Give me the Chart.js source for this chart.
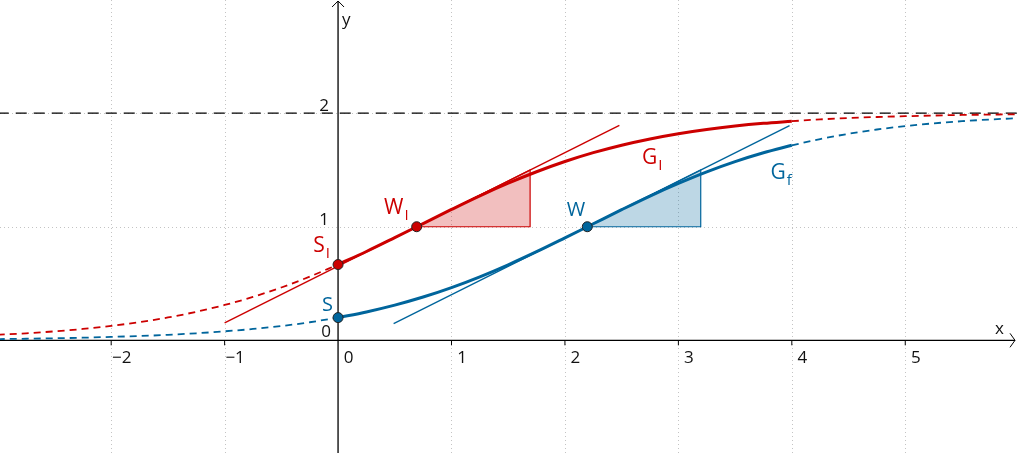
<!DOCTYPE html>
<html>
<head>
<meta charset="utf-8">
<script src="https://cdn.jsdelivr.net/npm/chart.js@4.4.1/dist/chart.umd.min.js"></script>
<style>
  html, body { margin: 0; padding: 0; background: #fff; }
  #wrap { width: 1017px; height: 453px; position: relative; }
</style>
</head>
<body>
<div id="wrap"><canvas id="plot"></canvas></div>
<script>
'use strict';

// sample positions
let xs = [-3, -2.75, -2.5, -2.25, -2, -1.75, -1.5, -1.25, -1, -0.75, -0.5, -0.25,
  0, 0.25, 0.5, 0.75, 1, 1.25, 1.5, 1.75, 2, 2.25, 2.5, 2.75, 3, 3.25, 3.5, 3.75,
  4, 4.25, 4.5, 4.75, 5, 5.25, 5.5, 5.75, 6];

// blue curve G_f
let fVals = [0.011, 0.014, 0.018, 0.023, 0.030, 0.038, 0.048, 0.062, 0.079, 0.100, 0.126, 0.159,
  0.200, 0.250, 0.310, 0.381, 0.464, 0.559, 0.665, 0.780, 0.902, 1.026, 1.150, 1.270, 1.381, 1.483, 1.573, 1.651,
  1.717, 1.772, 1.818, 1.856, 1.886, 1.910, 1.929, 1.944, 1.956];

// red curve G_I
let gVals = [0.049, 0.062, 0.079, 0.100, 0.127, 0.160, 0.201, 0.251, 0.311, 0.382, 0.465, 0.561,
  0.667, 0.782, 0.904, 1.028, 1.152, 1.272, 1.383, 1.484, 1.574, 1.652, 1.718, 1.773, 1.819, 1.856, 1.886, 1.910,
  1.929, 1.945, 1.957, 1.966, 1.973, 1.979, 1.984, 1.987, 1.990];

// tangent lines through the turning points
let tanF_x = [0.49, 3.98];
let tanF_y = [0.146, 1.89];
let tanG_x = [-1, 2.48];
let tanG_y = [0.153, 1.893];

// slope triangles
let triF_x = [2.197, 3.197, 3.197, 2.197];
let triF_y = [1, 1, 1.5, 1];
let triG_x = [0.693, 1.693, 1.693, 0.693];
let triG_y = [1, 1, 1.5, 1];

// asymptote y = 2
let asym_x = [-3, 6];
let asym_y = [2, 2];

// marked points
let ptF_x = [0, 2.197];
let ptF_y = [0.2, 1];
let ptG_x = [0, 0.693];
let ptG_y = [0.667, 1];

let xTicks = [-2, -1, 0, 1, 2, 3, 4, 5];
let yTicks = [1, 2];
let xGrid = [-2, -1, 1, 2, 3, 4, 5];
let yGrid = [1, 2];

const RED = '#cc0000';
const BLUE = '#00659c';
const FONT = '"Open Sans", sans-serif';

function pts(xArr, yArr, from, to) {
  let out = [];
  let a = from === undefined ? 0 : from;
  let b = to === undefined ? xArr.length - 1 : to;
  for (let i = a; i <= b; i++) {
    out.push({x: xArr[i], y: yArr[i]});
  }
  return out;
}

function curve(data, color, solid, order) {
  return {
    data: data,
    borderColor: color,
    borderWidth: solid ? 3 : 1.8,
    borderDash: solid ? [] : [7, 5],
    pointRadius: 0,
    showLine: true,
    cubicInterpolationMode: 'monotone',
    fill: false,
    order: order
  };
}

function straight(data, color, width, order) {
  return {
    data: data,
    borderColor: color,
    borderWidth: width,
    pointRadius: 0,
    showLine: true,
    fill: false,
    order: order
  };
}

function triangle(data, color, fillColor) {
  return {
    data: data,
    borderColor: color,
    borderWidth: 1.2,
    backgroundColor: fillColor,
    pointRadius: 0,
    showLine: true,
    fill: 'shape',
    order: 10
  };
}

function dots(data, color) {
  return {
    data: data,
    showLine: false,
    pointRadius: 5,
    pointBackgroundColor: color,
    pointBorderColor: '#222',
    pointBorderWidth: 1,
    order: 0
  };
}

let asymDs = straight(pts(asym_x, asym_y), '#000', 1.3, 9);
asymDs.borderDash = [11, 7];

// both curves: dashed left of 0, solid 0..4, dashed after 4
let datasets = [
  triangle(pts(triG_x, triG_y), RED, 'rgba(204,0,0,0.25)'),
  triangle(pts(triF_x, triF_y), BLUE, 'rgba(0,101,156,0.26)'),
  asymDs,
  curve(pts(xs, fVals, 0, 12), BLUE, false, 5),
  curve(pts(xs, fVals, 12, 28), BLUE, true, 4),
  curve(pts(xs, fVals, 28, 36), BLUE, false, 5),
  curve(pts(xs, gVals, 0, 12), RED, false, 5),
  curve(pts(xs, gVals, 12, 28), RED, true, 4),
  curve(pts(xs, gVals, 28, 36), RED, false, 5),
  straight(pts(tanF_x, tanF_y), BLUE, 1.4, 6),
  straight(pts(tanG_x, tanG_y), RED, 1.4, 6),
  dots(pts(ptF_x, ptF_y), BLUE),
  dots(pts(ptG_x, ptG_y), RED)
];

function sub(ctx, main, small, x, y, size, color) {
  // main letter + subscript, right edge at x
  ctx.fillStyle = color;
  ctx.font = size + 'px ' + FONT;
  let wMain = ctx.measureText(main).width;
  ctx.font = Math.round(size * 0.72) + 'px ' + FONT;
  let wSmall = ctx.measureText(small).width;
  ctx.font = size + 'px ' + FONT;
  ctx.textAlign = 'left';
  ctx.textBaseline = 'alphabetic';
  ctx.fillText(main, x - wMain - wSmall - 1, y);
  ctx.font = Math.round(size * 0.72) + 'px ' + FONT;
  ctx.fillText(small, x - wSmall, y + 6);
}

// grid, axes, arrows and tick labels
const axesPlugin = {
  id: 'axes',
  beforeDatasetsDraw(chart) {
    let ctx = chart.ctx;
    let sx = chart.scales.x, sy = chart.scales.y;
    let x0 = sx.getPixelForValue(0), y0 = sy.getPixelForValue(0);
    let area = chart.chartArea;
    ctx.save();

    ctx.strokeStyle = '#c4c4c4';
    ctx.lineWidth = 1;
    ctx.setLineDash([1, 3]);
    ctx.beginPath();
    xGrid.forEach(function(v) {
      let px = Math.round(sx.getPixelForValue(v)) + 0.5;
      ctx.moveTo(px, area.top); ctx.lineTo(px, area.bottom);
    });
    yGrid.forEach(function(v) {
      let py = Math.round(sy.getPixelForValue(v)) + 0.5;
      ctx.moveTo(area.left, py); ctx.lineTo(area.right, py);
    });
    ctx.stroke();
    ctx.setLineDash([]);

    ctx.strokeStyle = '#000';
    ctx.lineWidth = 1.3;
    ctx.beginPath();
    ctx.moveTo(area.left, y0); ctx.lineTo(area.right - 2, y0);
    ctx.moveTo(x0, area.bottom); ctx.lineTo(x0, area.top + 1);
    ctx.stroke();
    ctx.lineWidth = 1;
    ctx.beginPath();
    ctx.moveTo(area.right - 7, y0 - 7); ctx.lineTo(area.right - 2, y0); ctx.lineTo(area.right - 7, y0 + 7);
    ctx.moveTo(x0 - 6, area.top + 7); ctx.lineTo(x0, area.top + 1); ctx.lineTo(x0 + 6, area.top + 7);
    ctx.stroke();
    ctx.beginPath();
    xTicks.forEach(function(v) {
      if (v === 0) return;
      let px = sx.getPixelForValue(v);
      ctx.moveTo(px, y0); ctx.lineTo(px, y0 + 5);
    });
    ctx.stroke();

    ctx.fillStyle = '#111';
    ctx.font = '17px ' + FONT;
    ctx.textAlign = 'center';
    ctx.textBaseline = 'alphabetic';
    xTicks.forEach(function(v) {
      let px = sx.getPixelForValue(v);
      let txt = v < 0 ? '\u2212' + Math.abs(v) : String(v);
      ctx.fillText(txt, px + 10.5, y0 + 23);
    });
    ctx.textAlign = 'right';
    yTicks.forEach(function(v) {
      ctx.fillText(String(v), x0 - 9, sy.getPixelForValue(v) - 2);
    });
    ctx.fillText('0', x0 - 7, y0 - 3);
    ctx.textAlign = 'left';
    ctx.fillText('x', area.right - 22, y0 - 6);
    ctx.fillText('y', x0 + 4, area.top + 25);
    ctx.restore();
  },
  afterDatasetsDraw(chart) {
    let ctx = chart.ctx;
    let sx = chart.scales.x, sy = chart.scales.y;
    ctx.save();
    let px, py;
    // S
    px = sx.getPixelForValue(ptF_x[0]); py = sy.getPixelForValue(ptF_y[0]);
    ctx.fillStyle = BLUE;
    ctx.font = '20px ' + FONT;
    ctx.textAlign = 'right';
    ctx.fillText('S', px - 5, py - 7);
    // W
    px = sx.getPixelForValue(ptF_x[1]); py = sy.getPixelForValue(ptF_y[1]);
    ctx.fillText('W', px - 2, py - 11);
    // S_I, W_I
    px = sx.getPixelForValue(ptG_x[0]); py = sy.getPixelForValue(ptG_y[0]);
    sub(ctx, 'S', 'I', px - 8, py - 13, 21, RED);
    px = sx.getPixelForValue(ptG_x[1]); py = sy.getPixelForValue(ptG_y[1]);
    sub(ctx, 'W', 'I', px - 8, py - 13, 21, RED);
    // curve names
    sub(ctx, 'G', 'I', sx.getPixelForValue(2.86), sy.getPixelForValue(1.55), 21, RED);
    sub(ctx, 'G', 'f', sx.getPixelForValue(4.0), sy.getPixelForValue(1.42), 21, BLUE);
    ctx.restore();
  }
};

new Chart(document.getElementById('plot'), {
  type: 'scatter',
  data: {datasets: datasets},
  options: {
    responsive: true,
    maintainAspectRatio: false,
    animation: false,
    layout: {padding: 0, autoPadding: false},
    plugins: {legend: {display: false}, tooltip: {enabled: false}},
    scales: {
      x: {type: 'linear', min: -2.98, max: 5.985, display: false},
      y: {type: 'linear', min: -0.992, max: 2.996, display: false}
    }
  },
  plugins: [axesPlugin]
});
</script>
</body>
</html>
